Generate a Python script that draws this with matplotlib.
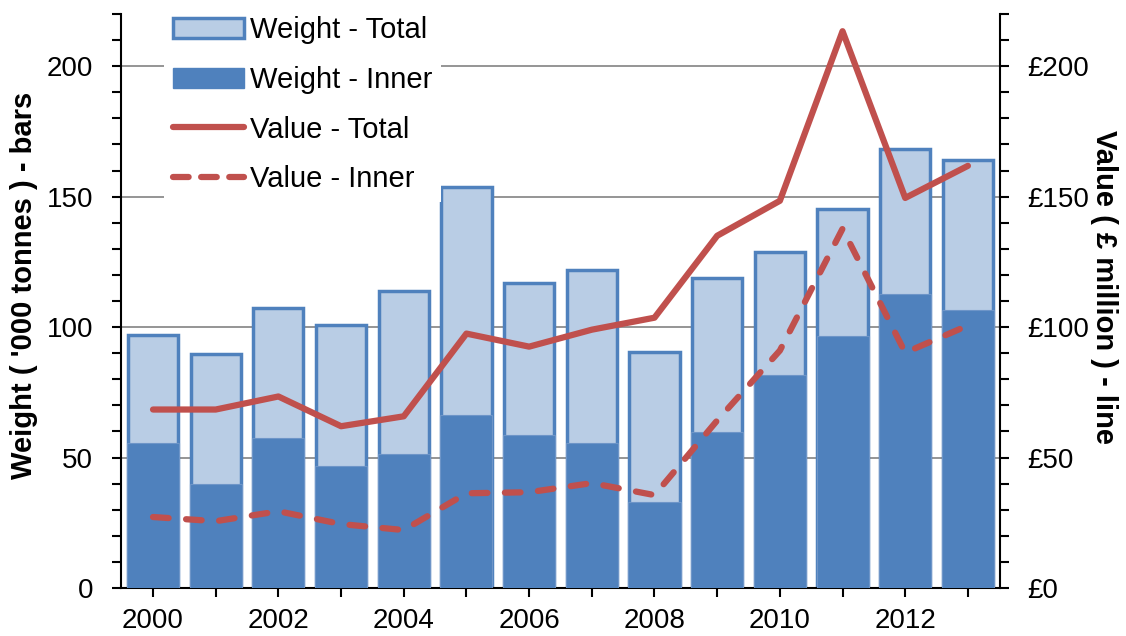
import numpy as np
import matplotlib.pyplot as plt
from matplotlib.patches import Patch
from matplotlib.lines import Line2D

plt.rcParams['font.family'] = ['Liberation Sans', 'DejaVu Sans']

years = np.arange(2000, 2014)
weight_total = [97, 89.5, 107.5, 100.8, 113.8, 153.8, 116.8, 121.8, 90.6, 118.8, 128.8, 145.2, 168.2, 164.2]
weight_inner = [55.4, 39.8, 57.4, 46.7, 51.2, 66.2, 58.5, 55.4, 32.9, 59.7, 81.8, 96.7, 112.8, 106.4]
value_total = [68.4, 68.4, 73.4, 62, 65.8, 97.5, 92.5, 99, 103.6, 135, 148.4, 213.4, 149.5, 161.8]
value_inner = [27.2, 25.6, 29.4, 24.5, 22.2, 36.3, 36.7, 40.2, 35.6, 64.2, 91, 137.7, 90.2, 100.6]

blue = '#4F81BD'
light = '#B9CDE5'
red = '#C0504D'

fig = plt.figure(figsize=(11.26, 6.36), dpi=100)
ax = fig.add_axes([0.1075, 0.0755, 0.7805, 0.9025])
ax2 = ax.twinx()

ax.set_axisbelow(True)
ax.yaxis.grid(True, color='#8C8C8C', linewidth=1.3)
ax.bar(years, weight_total, width=0.8, color=light, edgecolor=blue, linewidth=2.5, zorder=2)
ax.bar(years, weight_inner, width=0.83, color=blue, edgecolor='#6E95C8', linewidth=0.8, zorder=3)

ax2.plot(years, value_total, color=red, linewidth=4.5, solid_capstyle='round', zorder=4)
ax2.plot(years, value_inner, color=red, linewidth=4.5, dashes=(2.5, 2.8), dash_capstyle='round', zorder=4)

ax.set_xlim(1999.49, 2013.51)
ax.set_ylim(0, 220)
ax2.set_ylim(0, 220)

ax.set_xticks(years)
ax.set_xticklabels([str(y) if y % 2 == 0 else '' for y in years])
ax.set_yticks([0, 50, 100, 150, 200])
ax.set_yticks(np.arange(0, 221, 10), minor=True)
ax2.set_yticks([0, 50, 100, 150, 200])
ax2.set_yticks(np.arange(0, 221, 10), minor=True)
ax2.set_yticklabels(['£0', '£50', '£100', '£150', '£200'])

for a in (ax, ax2):
    a.tick_params(axis='both', which='both', direction='out', length=6.5, width=1.5, labelsize=20)
    a.tick_params(axis='y', which='both', pad=13.5)
    for s in a.spines.values():
        s.set_linewidth(1.5)
    a.spines['top'].set_visible(False)
ax.tick_params(axis='x', pad=8)
ax.spines['right'].set_visible(False)
ax2.spines['left'].set_visible(False)
ax2.spines['bottom'].set_visible(False)

# axis titles
fig.text(24 / 1126, 1 - 285 / 636, "Weight ( '000 tonnes ) - bars", fontsize=21, fontweight='bold',
         rotation=90, ha='center', va='center')
fig.text(1104 / 1126, 1 - 287 / 636, "Value ( £ million ) - line", fontsize=21, fontweight='bold',
         rotation=-90, ha='center', va='center')

handles = [
    Patch(facecolor=light, edgecolor=blue, linewidth=2.5),
    Patch(facecolor=blue, edgecolor=blue),
    Line2D([0], [0], color=red, linewidth=4.5, solid_capstyle='round'),
    Line2D([0], [0], color=red, linewidth=4.5, dashes=(2.5, 2.0), dash_capstyle='round'),
]
labels = ['Weight - Total', 'Weight - Inner', 'Value - Total', 'Value - Inner']
leg = ax2.legend(handles, labels, loc='upper left', bbox_to_anchor=(0.049, 1.011), fontsize=21,
                 frameon=True, facecolor='white', edgecolor='none', framealpha=1, fancybox=False,
                 handlelength=2.45, handletextpad=0.2, labelspacing=0.74, borderpad=0.3,
                 borderaxespad=0.0)
leg.set_zorder(10)

fig.savefig('out.png', dpi=100)
